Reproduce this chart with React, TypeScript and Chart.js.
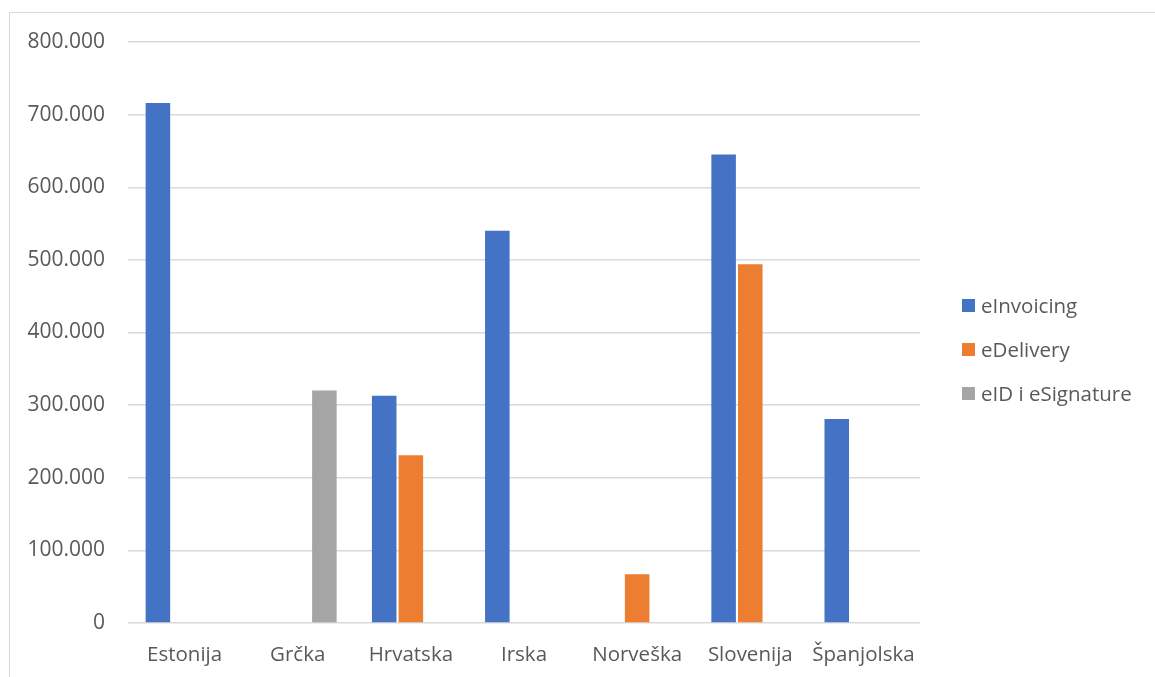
import React, { useEffect, useRef } from "react";
import { Chart, registerables } from "chart.js";

Chart.register(...registerables);

const categories = ["Estonija", "Grčka", "Hrvatska", "Irska", "Norveška", "Slovenija", "Španjolska"];
const seriesNames = ["eInvoicing", "eDelivery", "eID i eSignature"];
const eInvoicing = [716000, null, 313000, 540000, null, 645000, 281000];
const eDelivery = [null, null, 231000, null, 67000, 494000, null];
const eIdSignature = [null, 320000, null, null, null, null, null];
const seriesColors = ["#4472C4", "#ED7D31", "#A5A5A5"];
const yMax = 800000;
const yStep = 100000;

const FONT = "'Open Sans', 'Liberation Sans', sans-serif";
const TEXT = "#595959";

function fmt(v: number): string {
  return String(Math.round(v)).replace(/\B(?=(\d{3})+(?!\d))/g, ".");
}

export default function App() {
  const ref = useRef<HTMLCanvasElement | null>(null);

  useEffect(() => {
    if (!ref.current) return;
    const allSeries = [eInvoicing, eDelivery, eIdSignature];
    const chart = new Chart(ref.current, {
      type: "bar",
      data: {
        labels: categories,
        datasets: allSeries.map((d, i) => ({
          label: seriesNames[i],
          data: d,
          backgroundColor: seriesColors[i],
          borderWidth: 0,
          barPercentage: 0.92,
          categoryPercentage: 0.707,
        })),
      },
      options: {
        responsive: false,
        animation: false,
        devicePixelRatio: 1,
        layout: { padding: { top: 42, right: 235, left: 0, bottom: 0 } },
        plugins: { legend: { display: false }, tooltip: { enabled: false } },
        scales: {
          x: {
            grid: { display: false, drawTicks: false },
            border: { display: false },
            ticks: { color: TEXT, font: { family: FONT, size: 20.5 }, padding: 20, maxRotation: 0, autoSkip: false },
            afterFit: (s: any) => { s.height = 54; },
          },
          y: {
            min: 0,
            max: yMax,
            ticks: {
              stepSize: yStep,
              color: TEXT,
              font: { family: FONT, size: 21 },
              padding: 23,
              callback: (v: any) => fmt(Number(v)),
            },
            grid: { color: "#d9d9d9", lineWidth: 1.5, drawTicks: false },
            border: { display: false },
            afterFit: (s: any) => { s.width = 128; },
          },
        },
      },
    });
    return () => chart.destroy();
  }, []);

  const legendTop = [305, 349, 393];

  return (
    <div style={{ position: "fixed", left: 0, top: 0, width: 1155, height: 677, overflow: "hidden", background: "#fff" }}>
      <canvas ref={ref} width={1155} height={677} style={{ position: "absolute", left: 0, top: 0, width: 1155, height: 677 }} />
      <div style={{ position: "absolute", left: 9, top: 12, width: 1160, height: 680, borderTop: "1.5px solid #d9d9d9", borderLeft: "1.5px solid #d9d9d9", boxSizing: "border-box", pointerEvents: "none" }} />
      {seriesNames.map((n, i) => (
        <div key={n} style={{ position: "absolute", left: 962, top: legendTop[i] - 14, height: 28, display: "flex", alignItems: "center", fontFamily: FONT, fontSize: 20.5, color: TEXT, whiteSpace: "nowrap" }}>
          <span style={{ display: "inline-block", width: 13, height: 13, background: seriesColors[i], marginRight: 6 }} />
          <span>{n}</span>
        </div>
      ))}
    </div>
  );
}
